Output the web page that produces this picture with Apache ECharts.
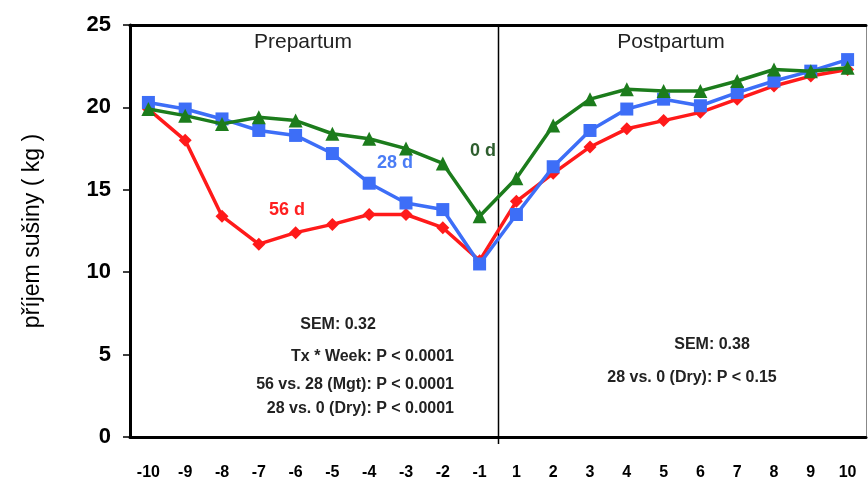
<!DOCTYPE html>
<html>
<head>
<meta charset="utf-8">
<script src="https://cdn.jsdelivr.net/npm/echarts@6/dist/echarts.min.js"></script>
<style>
  html, body { margin: 0; padding: 0; background: #fff; }
  #chart { width: 868px; height: 484px; }
</style>
</head>
<body>
<div id="chart"></div>
<script>
// weeks relative to calving
const weeks = ['-10', '-9', '-8', '-7', '-6', '-5', '-4', '-3', '-2', '-1',
  '1', '2', '3', '4', '5', '6', '7', '8', '9', '10']
const yTicks = [0, 5, 10, 15, 20, 25]

// dry matter intake, kg/day
const dry56 = [19.9, 18.0, 13.4, 11.7, 12.4, 12.9, 13.5, 13.5, 12.7, 10.7,
  14.3, 16.0, 17.6, 18.7, 19.2, 19.7, 20.5, 21.3, 21.9, 22.3]
const dry28 = [20.3, 19.9, 19.3, 18.6, 18.3, 17.2, 15.4, 14.2, 13.8, 10.5,
  13.5, 16.4, 18.6, 19.9, 20.5, 20.1, 20.9, 21.6, 22.2, 22.9]
const dry0 = [19.9, 19.5, 19.0, 19.4, 19.2, 18.4, 18.1, 17.5, 16.6, 13.4,
  15.7, 18.9, 20.5, 21.1, 21.0, 21.0, 21.6, 22.3, 22.2, 22.4]

const font = '"Liberation Sans", Arial, sans-serif'

const chart = echarts.init(document.getElementById('chart'))

const txt = (x, y, text, opts) => ({
  type: 'text',
  x, y,
  style: Object.assign({
    text,
    font: 'bold 16px ' + font,
    fill: '#222',
    textAlign: 'center',
    textVerticalAlign: 'middle'
  }, opts || {})
})

const labels = [
  txt(303, 42, 'Prepartum', { font: '21px ' + font }),
  txt(671, 42, 'Postpartum', { font: '21px ' + font }),
  txt(483, 151, '0 d', { font: 'bold 18px ' + font, fill: '#2e5e2e' }),
  txt(395, 163, '28 d', { font: 'bold 18px ' + font, fill: '#4a7cf5' }),
  txt(287, 210, '56 d', { font: 'bold 18px ' + font, fill: '#ff2020' }),
  txt(338, 325, 'SEM: 0.32'),
  txt(454, 357, 'Tx * Week: P < 0.0001', { textAlign: 'right' }),
  txt(454, 385, '56 vs. 28 (Mgt): P < 0.0001', { textAlign: 'right' }),
  txt(454, 409, '28 vs. 0 (Dry): P < 0.0001', { textAlign: 'right' }),
  txt(712, 345, 'SEM: 0.38'),
  txt(692, 378, '28 vs. 0 (Dry): P < 0.15')
]

const option = {
  animation: false,
  grid: { left: 130, right: 2, top: 25, bottom: 47 },
  xAxis: [{
    type: 'category',
    data: weeks,
    boundaryGap: true,
    axisLine: { lineStyle: { color: '#000', width: 3 } },
    axisTick: { show: false },
    splitLine: { show: false },
    axisLabel: {
      interval: 0,
      margin: 28,
      color: '#000',
      fontFamily: font,
      fontWeight: 'bold',
      fontSize: 16
    }
  }, {
    type: 'category',
    data: weeks,
    position: 'top',
    axisLine: { onZero: false, lineStyle: { color: '#000', width: 3 } },
    axisTick: { show: false },
    axisLabel: { show: false }
  }],
  yAxis: [{
    type: 'value',
    min: yTicks[0],
    max: yTicks[yTicks.length - 1],
    interval: 5,
    name: 'příjem sušiny ( kg )',
    nameLocation: 'middle',
    nameGap: 86,
    nameTextStyle: { color: '#000', fontFamily: font, fontSize: 23 },
    axisLine: { show: true, lineStyle: { color: '#000', width: 3 } },
    axisTick: { show: true, length: 7, lineStyle: { color: '#000', width: 1.5 } },
    splitLine: { show: false },
    axisLabel: {
      margin: 19,
      color: '#000',
      fontFamily: font,
      fontWeight: 'bold',
      fontSize: 22
    }
  }, {
    type: 'value',
    position: 'right',
    min: 0,
    max: 25,
    interval: 5,
    axisLine: { show: true, onZero: false, lineStyle: { color: '#888', width: 1 } },
    axisTick: { show: false },
    axisLabel: { show: false },
    splitLine: { show: false }
  }],
  series: [{
    name: '56 d',
    type: 'line',
    data: dry56,
    symbol: 'diamond',
    symbolSize: 13,
    itemStyle: { color: '#ff1a1a' },
    lineStyle: { color: '#ff1a1a', width: 3.5 },
    z: 2
  }, {
    name: '28 d',
    type: 'line',
    data: dry28,
    symbol: 'rect',
    symbolSize: 13,
    itemStyle: { color: '#3d6ef7' },
    lineStyle: { color: '#3d6ef7', width: 3.5 },
    z: 3
  }, {
    name: '0 d',
    type: 'line',
    data: dry0,
    symbol: 'triangle',
    symbolSize: 14,
    itemStyle: { color: '#1c7c1c' },
    lineStyle: { color: '#1c7c1c', width: 3.5 },
    z: 4
  }],
  graphic: labels
}

chart.setOption(option)

// prepartum / postpartum divider, halfway between week -1 and week 1
const xa = chart.convertToPixel({ xAxisIndex: 0 }, '-1')
const xb = chart.convertToPixel({ xAxisIndex: 0 }, '1')
const yTop = chart.convertToPixel({ yAxisIndex: 0 }, 25)
const yBot = chart.convertToPixel({ yAxisIndex: 0 }, 0)
const xd = Math.round((xa + xb) / 2) + 0.5
chart.setOption({
  graphic: labels.concat([{
    type: 'line',
    shape: { x1: xd, y1: yTop, x2: xd, y2: yBot + 7 },
    style: { stroke: '#000', lineWidth: 1.5 },
    z: 1
  }])
})
</script>
</body>
</html>
